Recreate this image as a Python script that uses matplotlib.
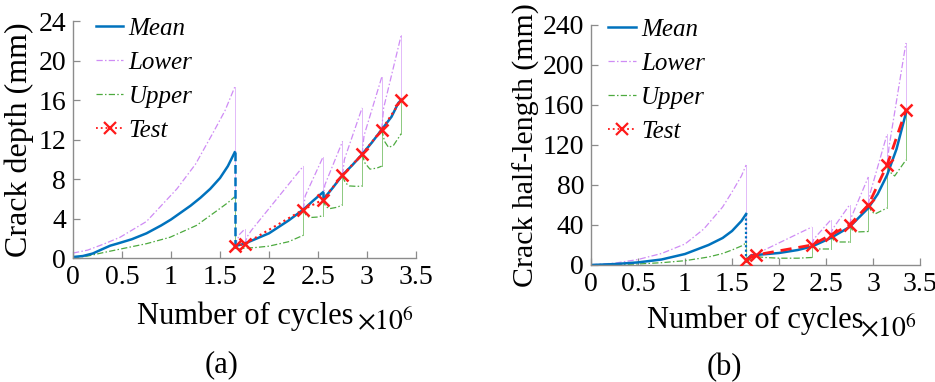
import matplotlib
matplotlib.use("Agg")
import matplotlib.pyplot as plt
from matplotlib.lines import Line2D

plt.rcParams['font.family'] = 'serif'
plt.rcParams['font.serif'] = ['Liberation Serif']
plt.rcParams['mathtext.fontset'] = 'stix'
FONT = 'Liberation Serif'

# ---------------- data: panel (a) crack depth (mm) ----------------
a_mean_x = [0, 0.1, 0.2, 0.3, 0.38, 0.45, 0.6, 0.75, 0.9, 1.0, 1.1, 1.2, 1.3, 1.4, 1.5, 1.58, 1.65,
            1.65, 1.75, 2.0, 2.2, 2.35, 2.45, 2.55, 2.55, 2.65, 2.75, 2.85, 2.95, 3.05, 3.15, 3.25, 3.32, 3.35]
a_mean_y = [0.1, 0.2, 0.45, 0.9, 1.25, 1.45, 1.9, 2.5, 3.3, 3.9, 4.6, 5.3, 6.1, 7.0, 8.1, 9.3, 10.7,
            1.2, 1.45, 2.5, 3.8, 4.9, 5.8, 6.65, 5.9, 7.1, 8.4, 9.4, 10.5, 11.7, 13.0, 14.3, 15.7, 16.0]

a_lower_x = [0, 0.15, 0.31, 0.48, 0.75, 1.06, 1.25, 1.43, 1.55, 1.65,
             1.65, 1.7, 1.75, 1.75, 1.78, 1.82, 2.35, 2.35, 2.37, 2.55, 2.55, 2.57, 2.75,
             2.75, 2.77, 2.95, 2.95, 2.97, 3.15, 3.15, 3.17, 3.35, 3.35]
a_lower_y = [0.5, 0.8, 1.4, 2.1, 3.7, 7.0, 9.5, 12.7, 14.9, 17.3,
             1.2, 2.4, 2.9, 1.4, 2.2, 2.8, 9.3, 4.9, 6.3, 10.2, 5.9, 7.4, 11.8,
             8.4, 10.0, 15.2, 10.5, 12.4, 18.3, 13.0, 15.2, 22.6, 16.0]

a_upper_x = [0, 0.15, 0.31, 0.48, 0.75, 0.99, 1.26, 1.47, 1.58, 1.65,
             1.65, 1.7, 1.75, 1.85, 2.0, 2.2, 2.35, 2.35, 2.38, 2.42, 2.5, 2.55,
             2.55, 2.58, 2.62, 2.7, 2.75, 2.75, 2.78, 2.82, 2.9, 2.95,
             2.95, 2.98, 3.03, 3.1, 3.15, 3.15, 3.18, 3.22, 3.27, 3.35, 3.35]
a_upper_y = [0.03, 0.2, 0.55, 0.9, 1.45, 2.1, 3.3, 4.8, 5.6, 6.2,
             1.0, 0.9, 1.0, 1.05, 1.2, 1.65, 2.3, 4.9, 4.3, 4.1, 4.15, 4.3,
             5.9, 5.2, 5.0, 5.15, 5.4, 8.3, 7.6, 7.3, 7.25, 7.3,
             10.5, 9.6, 9.0, 9.1, 9.3, 13.0, 11.8, 11.2, 11.4, 12.6, 16.0]

test_x = [1.65, 1.75, 2.35, 2.55, 2.75, 2.95, 3.15, 3.35]
a_test_y = [1.2, 1.4, 4.9, 5.9, 8.4, 10.5, 13.0, 16.0]

# ---------------- data: panel (b) crack half-length (mm) ----------------
b_mean_x = [0, 0.25, 0.5, 0.75, 1.0, 1.25, 1.4, 1.5, 1.6, 1.65,
            1.65, 1.67, 1.7, 1.75, 2.0, 2.2, 2.35, 2.55, 2.75, 2.95, 3.05, 3.15, 3.25, 3.35]
b_mean_y = [0, 0.9, 2.6, 5.5, 11, 20, 27, 34, 44, 51,
            4, 6.7, 9.5, 10, 12, 15, 18.5, 27, 38, 57, 71, 90, 116, 152]

b_lower_x = [0, 0.25, 0.5, 0.75, 1.0, 1.2, 1.4, 1.5, 1.6, 1.65,
             1.65, 1.7, 1.75, 1.8, 2.35, 2.35, 2.37, 2.55, 2.55, 2.57, 2.75,
             2.75, 2.77, 2.95, 2.95, 2.97, 3.15, 3.15, 3.17, 3.35, 3.35]
b_lower_y = [0.3, 1.8, 5.5, 11.5, 21, 36, 58, 73, 89, 100,
             5, 8, 10, 13, 38, 20, 26, 45, 30, 36, 60,
             40, 48, 88, 60, 72, 131, 100, 118, 222, 155]

b_upper_x = [0, 0.25, 0.5, 0.75, 1.0, 1.25, 1.4, 1.5, 1.6, 1.65,
             1.65, 1.7, 1.75, 1.85, 2.0, 2.2, 2.35, 2.35, 2.38, 2.42, 2.55,
             2.55, 2.58, 2.62, 2.75, 2.75, 2.78, 2.82, 2.95,
             2.95, 2.98, 3.02, 3.15, 3.15, 3.18, 3.23, 3.35, 3.35]
b_upper_y = [0, 0.3, 1.0, 2.3, 4.3, 8, 11.5, 15, 19, 22,
             3, 6, 8.5, 7.5, 6.8, 6.8, 7.5, 20, 17, 16, 16,
             30, 25, 23, 23, 40, 35, 33, 33.5,
             60, 54, 51, 57, 100, 93, 89, 105, 155]

b_test_y = [5, 10, 20, 30, 40, 60, 100, 155]

x_ticks = [0, 0.5, 1, 1.5, 2, 2.5, 3, 3.5]
x_ticklabels = ['0', '0.5', '1', '1.5', '2', '2.5', '3', '3.5']
a_yticks = [0, 4, 8, 12, 16, 20, 24]
b_yticks = [0, 40, 80, 120, 160, 200, 240]
legend_labels = ['Mean', 'Lower', 'Upper', 'Test']

# ---------------- styles ----------------
BLUE = '#0072BD'
PURPLE = '#CF8CF5'
GREEN = '#4DAA3F'
GREEN_LIGHT = '#8CC97E'
RED = '#FF1A1A'
SPINE = '#8C8C8C'
DASHDOT = (0, (5, 1.8, 1.2, 1.8))


def draw_piecewise(ax, xs, ys, run_kw, jump_kw):
    start = 0
    for i in range(1, len(xs)):
        if xs[i] == xs[i - 1]:
            ax.plot(xs[start:i], ys[start:i], **run_kw)
            ax.plot([xs[i - 1], xs[i]], [ys[i - 1], ys[i]], **jump_kw)
            start = i
    ax.plot(xs[start:], ys[start:], **run_kw)


def style_axes(ax, ylim, yticks):
    ax.set_xlim(0, 3.5)
    ax.set_ylim(*ylim)
    ax.set_xticks(x_ticks)
    ax.set_xticklabels(x_ticklabels, family=FONT)
    ax.set_yticks(yticks)
    ax.set_yticklabels([str(v) for v in yticks], family=FONT)
    for s in ['top', 'right']:
        ax.spines[s].set_visible(False)
    for s in ['left', 'bottom']:
        ax.spines[s].set_color(SPINE)
        ax.spines[s].set_linewidth(1.0)
    ax.tick_params(direction='in', length=5, width=0.9, color=SPINE,
                   labelsize=20, labelcolor='black', pad=5)
    ax.patch.set_alpha(0)


def legend_handles(test_style):
    return [
        Line2D([], [], color=BLUE, lw=1.8),
        Line2D([], [], color=PURPLE, lw=0.9, linestyle=DASHDOT),
        Line2D([], [], color=GREEN, lw=0.9, linestyle=DASHDOT),
        Line2D([], [], color=RED, lw=1.3, linestyle=test_style, marker='x',
               markersize=8, markeredgewidth=1.6),
    ]


fig = plt.figure(figsize=(9.35, 3.82), dpi=100)

# ---------------- panel (a) ----------------
axa = fig.add_axes([0.0781, 0.3246, 0.3668, 0.6204])
draw_piecewise(axa, a_lower_x, a_lower_y,
               dict(color=PURPLE, lw=0.9, linestyle=DASHDOT),
               dict(color=PURPLE, lw=0.6, linestyle='-', alpha=0.7))
draw_piecewise(axa, a_upper_x, a_upper_y,
               dict(color=GREEN, lw=0.9, linestyle=DASHDOT),
               dict(color=GREEN_LIGHT, lw=0.7, linestyle='-'))
draw_piecewise(axa, a_mean_x, a_mean_y,
               dict(color=BLUE, lw=1.8, linestyle='-'),
               dict(color=BLUE, lw=1.8, linestyle=(0, (3.5, 1.5))))
axa.plot(test_x, a_test_y, color=RED, lw=1.5, linestyle=':', marker='x',
         markersize=9, markeredgewidth=1.8, zorder=5)
style_axes(axa, (0, 24), a_yticks)
axa.set_ylabel('Crack depth (mm)', fontsize=23, family=FONT, labelpad=3)
axa.legend(legend_handles(':'), legend_labels, loc='upper left',
           bbox_to_anchor=(0.03, 1.068), frameon=False, handlelength=1.1,
           handletextpad=0.2, labelspacing=0.46, borderpad=0,
           prop={'family': FONT, 'style': 'italic', 'size': 18})

fig.text(245 / 935, 1 - 316 / 382, 'Number of cycles', fontsize=22, family=FONT,
         ha='center', va='center')
fig.text(386 / 935, 1 - 322 / 382, r'$\times10^{6}$', fontsize=20, ha='center', va='center')
fig.text(222 / 935, 1 - 365 / 382, '(a)', fontsize=22, family=FONT, ha='center', va='center')

# ---------------- panel (b) ----------------
axb = fig.add_axes([0.6321, 0.3063, 0.3519, 0.6283])
draw_piecewise(axb, b_lower_x, b_lower_y,
               dict(color=PURPLE, lw=0.9, linestyle=DASHDOT),
               dict(color=PURPLE, lw=0.6, linestyle='-', alpha=0.7))
draw_piecewise(axb, b_upper_x, b_upper_y,
               dict(color=GREEN, lw=0.9, linestyle=DASHDOT),
               dict(color=GREEN_LIGHT, lw=0.7, linestyle='-'))
draw_piecewise(axb, b_mean_x, b_mean_y,
               dict(color=BLUE, lw=1.8, linestyle='-'),
               dict(color=BLUE, lw=1.6, linestyle=(0, (1, 1))))
axb.plot(test_x, b_test_y, color=RED, lw=2.0, linestyle=(0, (4, 2.5)), marker='x',
         markersize=9, markeredgewidth=1.8, zorder=5)
style_axes(axb, (0, 240), b_yticks)
axb.set_ylabel('Crack half-length (mm)', fontsize=21.5, family=FONT, labelpad=2)
axb.legend(legend_handles(':'), legend_labels, loc='upper left',
           bbox_to_anchor=(0.015, 1.08), frameon=False, handlelength=1.1,
           handletextpad=0.2, labelspacing=0.46, borderpad=0,
           prop={'family': FONT, 'style': 'italic', 'size': 18})

fig.text(755 / 935, 1 - 320 / 382, 'Number of cycles', fontsize=22, family=FONT,
         ha='center', va='center')
fig.text(889 / 935, 1 - 329 / 382, r'$\times10^{6}$', fontsize=20, ha='center', va='center')
fig.text(724 / 935, 1 - 368 / 382, '(b)', fontsize=22, family=FONT, ha='center', va='center')

fig.savefig('out.png', dpi=100)
